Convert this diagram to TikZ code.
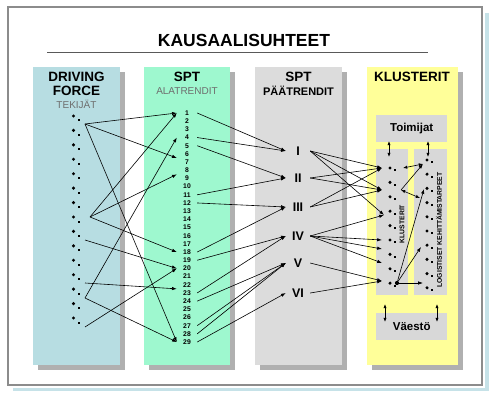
\documentclass[tikz,border=0pt]{standalone}
\usepackage{fontspec}
\setmainfont{Liberation Sans}
\usetikzlibrary{arrows.meta,calc}
\definecolor{colA}{HTML}{B7DDE2}
\definecolor{colB}{HTML}{9EF8CF}
\definecolor{colC}{HTML}{DCDCDC}
\definecolor{colD}{HTML}{FFFF99}
\definecolor{inbox}{HTML}{D8D8D8}
\definecolor{shad}{HTML}{B0B0B0}
\definecolor{fblue}{HTML}{C6E2E8}
\definecolor{fgray}{HTML}{8C8C8C}
\definecolor{subgray}{HTML}{6E6E6E}
\begin{document}
\begin{tikzpicture}[x=1pt,y=-1pt,
  conn/.style={-{Latex[length=4.8pt,width=3.4pt]},line width=0.6pt},
  dconn/.style={{Latex[length=4.2pt,width=3.2pt]}-{Latex[length=4.2pt,width=3.2pt]},line width=0.6pt},
  hdr/.style={font=\fontsize{13.5}{13.5}\selectfont\bfseries,inner sep=0pt},
  hdrs/.style={font=\fontsize{11}{11}\selectfont\bfseries,inner sep=0pt},
  subt/.style={font=\fontsize{10}{10}\selectfont,text=subgray,inner sep=0pt},
  num/.style={font=\fontsize{6.8}{7}\selectfont\bfseries,inner sep=0pt,minimum width=20pt,minimum height=7pt},
  rom/.style={font=\fontsize{12.5}{12.5}\selectfont\bfseries,inner sep=0pt,minimum width=24pt,minimum height=10pt},
  bigdot/.style={circle,fill=black,inner sep=0pt,minimum size=3.4pt},
  smdot/.style={rectangle,fill=black,inner sep=0pt,minimum size=2pt},
  boxlbl/.style={fill=inbox,inner sep=0pt,anchor=north west,font=\fontsize{11.5}{12}\selectfont\bfseries},
  vlbl/.style={rotate=90,inner sep=0pt,font=\fontsize{6.8}{7}\selectfont\bfseries}
]
\useasboundingbox (0,0) rectangle (501,403);
% frame
\fill[fblue] (13,13) rectangle (489,391);
\fill[white] (8,7) rectangle (485,388);
\draw[fgray,line width=1.1pt,fill=white] (8,7) rectangle (482,385);
\node[font=\fontsize{17.5}{17.5}\selectfont\bfseries,inner sep=0pt] (title) at (244,40) {KAUSAALISUHTEET};
\coordinate (ulL) at (47,52);
\coordinate (ulR) at (428,52);
\draw[line width=0.6pt,black!65] (ulL) -- (ulR);
% panels with shadows
\fill[shad] (38,72) rectangle (125,370);
\fill[colA] (33,67) rectangle (120,365);
\fill[shad] (149,72) rectangle (235,370);
\fill[colB] (144,67) rectangle (230,365);
\fill[shad] (260,72) rectangle (347,370);
\fill[colC] (255,67) rectangle (342,365);
\fill[shad] (372,72) rectangle (463,370);
\fill[colD] (367,67) rectangle (458,365);
% headers
\node[hdr] (h1a) at (76.5,76.5) {DRIVING};
\node[hdr] (h1b) at (76.5,91) {FORCE};
\node[subt] (h1c) at (76.5,104) {TEKIJÄT};
\node[hdr] (h2a) at (187,76.5) {SPT};
\node[subt] (h2b) at (187,91) {ALATRENDIT};
\node[hdr] (h3a) at (298.5,76.5) {SPT};
\node[hdrs] (h3b) at (298.5,91) {PÄÄTRENDIT};
\node[hdr] (h4a) at (412,76.5) {KLUSTERIT};
% column 1 dots
\foreach \i in {1,...,15} {
  \node[bigdot] (d\i) at (73.5,{116+(\i-1)*14.43}) {};
  \node[smdot] (e\i) at (78.5,{120.5+(\i-1)*14.43}) {};
}
% column 2 numbers
\foreach \i in {1,...,29} {
  \node[num] (n\i) at (187,{113+(\i-1)*8.18}) {\i};
}
% column 3 numerals
\node[rom] (r1) at (298,151) {I};
\node[rom] (r2) at (298,178) {II};
\node[rom] (r3) at (298,207) {III};
\node[rom] (r4) at (298,236) {IV};
\node[rom] (r5) at (298,263) {V};
\node[rom] (r6) at (298,293) {VI};
% column 4 boxes
\node[boxlbl,minimum width=71pt,minimum height=27pt] (toim) at (376,115) {Toimijat};
\node[boxlbl,minimum width=32pt,minimum height=146pt] (klb) at (376,149) {};
\node[boxlbl,minimum width=33pt,minimum height=146pt] (lgb) at (414,149) {};
\node[boxlbl,minimum width=71pt,minimum height=27pt] (vae) at (376,313) {Väestö};
\node[vlbl] (kltxt) at (402,224) {KLUSTERIT};
\node[vlbl] (lgtxt) at (439,230) {LOGISTISET KEHITTÄMISTARPEET};
\foreach \i in {1,...,9} {
  \node[bigdot] (c\i) at (390,{168+(\i-1)*14.4}) {};
  \node[smdot] (f\i) at (394.5,{170.5+(\i-1)*14.4}) {};
}
\foreach \i in {1,...,10} {
  \node[bigdot] (g\i) at (427,{160+(\i-1)*14.2}) {};
  \node[smdot] (k\i) at (431.5,{162.5+(\i-1)*14.2}) {};
}
% sources in column 1
\coordinate (s1) at (85,124);
\coordinate (s2) at (90,217);
\coordinate (s3) at (85,240);
\coordinate (s4) at (85,283);
\coordinate (s5) at (85,298);
\coordinate (s6) at (85,327);
\draw[conn] (s1) -- (n1.west);
\draw[conn] (s1) -- ($(n6.west)!.5!(n7.west)$);
\draw[conn] (s1) -- (n29.west);
\draw[conn] (s2) -- (n1.west);
\draw[conn] (s2) -- ($(n8.west)!.5!(n9.west)$);
\draw[conn] (s2) -- (n18.west);
\draw[conn] (s3) -- (n20.west);
\draw[conn] (s4) -- ($(n22.west)!.5!(n23.west)$);
\draw[conn] (s5) -- (n4.west);
\draw[conn] (s5) -- (n29.west);
\draw[conn] (s6) -- (n20.west);
% column 2 -> column 3
\draw[conn] (n1.east) -- (r1.west);
\draw[conn] (n4.east) -- (r1.west);
\draw[conn] (n5.east) -- (r2.west);
\draw[conn] (n11.east) -- (r2.west);
\draw[conn] (n12.east) -- (r3.west);
\draw[conn] (n18.east) -- (r3.west);
\draw[conn] (n19.east) -- (r4.west);
\draw[conn] (n23.east) -- (r4.west);
\draw[conn] (n24.east) -- (r5.west);
\draw[conn] (n27.east) -- (r5.west);
\draw[conn] (n28.east) -- (r5.west);
\draw[conn] (n29.east) -- (r6.west);
% column 3 -> clusters
\coordinate (t1) at (382,168);
\coordinate (t2) at (382,190);
\coordinate (t3) at (384,215);
\coordinate (t4) at (382,240);
\coordinate (t5) at (382,249);
\coordinate (t6) at (382,263);
\coordinate (t7) at (382,281);
\draw[conn] (r1.east) -- (t1);
\draw[conn] (r1.east) -- (t2);
\draw[conn] (r1.east) -- (t3);
\draw[conn] (r2.east) -- (t1);
\draw[conn] (r2.east) -- (t2);
\draw[conn] (r3.east) -- (t1);
\draw[conn] (r3.east) -- (t2);
\draw[conn] (r4.east) -- (t3);
\draw[conn] (r4.east) -- (t4);
\draw[conn] (r4.east) -- (t5);
\draw[conn] (r4.east) -- (t6);
\draw[conn] (r5.east) -- (t7);
\draw[conn] (r6.east) -- (t7);
% inside clusters
\coordinate (a1) at (403,168);
\coordinate (a2) at (423,164);
\coordinate (a3) at (401,190);
\coordinate (a4) at (420,198);
\draw[dconn] (a1) -- (a2);
\draw[conn] (a3) -- (a2);
\draw[dconn] (a3) -- (a4);
\node[circle,fill=black,inner sep=0pt,minimum size=4.2pt] (bb) at (397,283) {};
\coordinate (b1) at (424,189);
\coordinate (b2) at (421,247);
\coordinate (b3) at (423,283);
\draw[conn] (bb) -- (b1);
\draw[conn] (bb) -- (b2);
\draw[conn] (bb) -- (b3);
% vertical double arrows
\coordinate (v1a) at (389,141); \coordinate (v1b) at (389,157);
\coordinate (v2a) at (428,141); \coordinate (v2b) at (428,157);
\coordinate (v3a) at (385,304); \coordinate (v3b) at (385,322);
\coordinate (v4a) at (437,304); \coordinate (v4b) at (437,322);
\draw[dconn] (v1a) -- (v1b);
\draw[dconn] (v2a) -- (v2b);
\draw[dconn] (v3a) -- (v3b);
\draw[dconn] (v4a) -- (v4b);
\end{tikzpicture}
\end{document}
